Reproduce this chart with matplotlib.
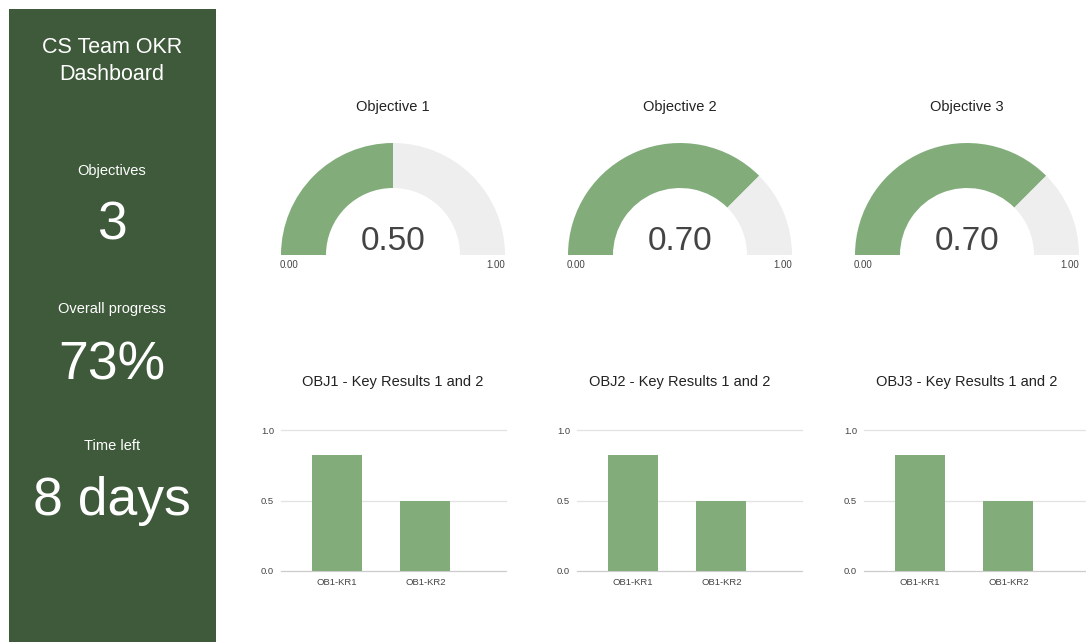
import matplotlib.pyplot as plt
from matplotlib.patches import Rectangle, Wedge

plt.rcParams["font.family"] = ["Liberation Sans", "DejaVu Sans"]

W, H = 1086, 642

SIDEBAR_GREEN = "#3e5a3a"
BAR_GREEN = "#82ad7b"
GAUGE_GREY = "#eeeeee"
TEXT_GREY = "#444444"

# sidebar numbers
dashboard_title = ["CS Team OKR", "Dashboard"]
kpi_labels = ["Objectives", "Overall progress", "Time left"]
kpi_values = ["3", "73%", "8 days"]

# gauges
gauge_titles = ["Objective 1", "Objective 2", "Objective 3"]
gauge_values = [0.50, 0.70, 0.70]
gauge_fill = [0.50, 0.75, 0.75]   # arc extent as drawn in the picture
gauge_min, gauge_max = 0.0, 1.0

# key result bars
bar_titles = ["OBJ1 - Key Results 1 and 2", "OBJ2 - Key Results 1 and 2",
              "OBJ3 - Key Results 1 and 2"]
kr_labels = ["OB1-KR1", "OB1-KR2"]
kr_values = [[0.82, 0.50], [0.82, 0.50], [0.82, 0.50]]
y_ticks = [0.0, 0.5, 1.0]


def px_axes(fig, x0, y0, x1, y1):
    # pixel box (top-left origin) -> figure axes
    return fig.add_axes([x0 / W, 1 - y1 / H, (x1 - x0) / W, (y1 - y0) / H])


def main():
    fig = plt.figure(figsize=(W / 100, H / 100), dpi=100)
    fig.patch.set_facecolor("white")

    # sidebar
    side = px_axes(fig, 0, 0, W, H)
    side.set_xlim(0, W)
    side.set_ylim(H, 0)
    side.axis("off")
    side.add_patch(Rectangle((8.5, 8.5), 207, H, facecolor=SIDEBAR_GREEN, lw=0))
    cx = 112
    for line, yb in zip(dashboard_title, [53, 80]):
        side.text(cx, yb, line, color="white", fontsize=15.5, ha="center", va="baseline")
    for lab, val, yl, yv in zip(kpi_labels, kpi_values, [175, 313, 450], [240, 380, 515]):
        side.text(cx, yl, lab, color="white", fontsize=10.5, ha="center", va="baseline")
        side.text(cx, yv, val, color="white", fontsize=38.5, ha="center", va="baseline")

    # gauges
    gauge_cx = [393, 680, 967]
    gauge_cy = 255
    r_out, r_in = 112, 67
    for gx, title, val, fill in zip(gauge_cx, gauge_titles, gauge_values, gauge_fill):
        ax = px_axes(fig, gx - 125, 90, gx + 125, 280)
        ax.set_xlim(-125, 125)
        ax.set_ylim(-(280 - gauge_cy), gauge_cy - 90)
        ax.axis("off")
        frac = (fill - gauge_min) / (gauge_max - gauge_min)
        split = 180 - 180 * frac
        ax.add_patch(Wedge((0, 0), r_out, split, 180, width=r_out - r_in, color=BAR_GREEN, lw=0))
        ax.add_patch(Wedge((0, 0), r_out, 0, split, width=r_out - r_in, color=GAUGE_GREY, lw=0))
        ax.text(0, gauge_cy - 250, f"{val:.2f}", fontsize=24, color=TEXT_GREY, ha="center", va="baseline")
        ax.text(-r_out - 1, gauge_cy - 268, f"{gauge_min:.2f}", fontsize=7, color=TEXT_GREY,
                ha="left", va="baseline")
        ax.text(r_out, gauge_cy - 268, f"{gauge_max:.2f}", fontsize=7, color=TEXT_GREY,
                ha="right", va="baseline")
        ax.text(0, gauge_cy - 111, title, fontsize=10.5, color="#222222", ha="center", va="baseline")

    # key result bar charts
    bar_left = [281, 577, 864]
    for bl, gx, title, vals in zip(bar_left, gauge_cx, bar_titles, kr_values):
        ax = px_axes(fig, bl, 430, bl + 225, 571)
        ax.bar(range(len(kr_labels)), vals, width=0.565, color=BAR_GREEN, zorder=2)
        ax.set_xlim(-0.633, 1.91)
        ax.set_ylim(0, 1)
        ax.set_yticks(y_ticks)
        ax.set_yticklabels([f"{t:.1f}" for t in y_ticks])
        ax.set_xticks(range(len(kr_labels)))
        ax.set_xticklabels(kr_labels)
        ax.tick_params(length=0, labelsize=6.8, labelcolor=TEXT_GREY)
        ax.tick_params(axis="y", pad=5)
        ax.tick_params(axis="x", pad=5)
        for s in ax.spines.values():
            s.set_visible(False)
        for t in y_ticks:
            ax.axhline(t, color="#cccccc" if t == 0 else "#e2e2e2", lw=0.9, zorder=1, clip_on=False)
        fig.text(gx / W, 1 - 386 / H, title, fontsize=10.5, color="#222222", ha="center", va="baseline")

    fig.savefig("out.png", dpi=100)
    plt.close(fig)


if __name__ == "__main__":
    main()
